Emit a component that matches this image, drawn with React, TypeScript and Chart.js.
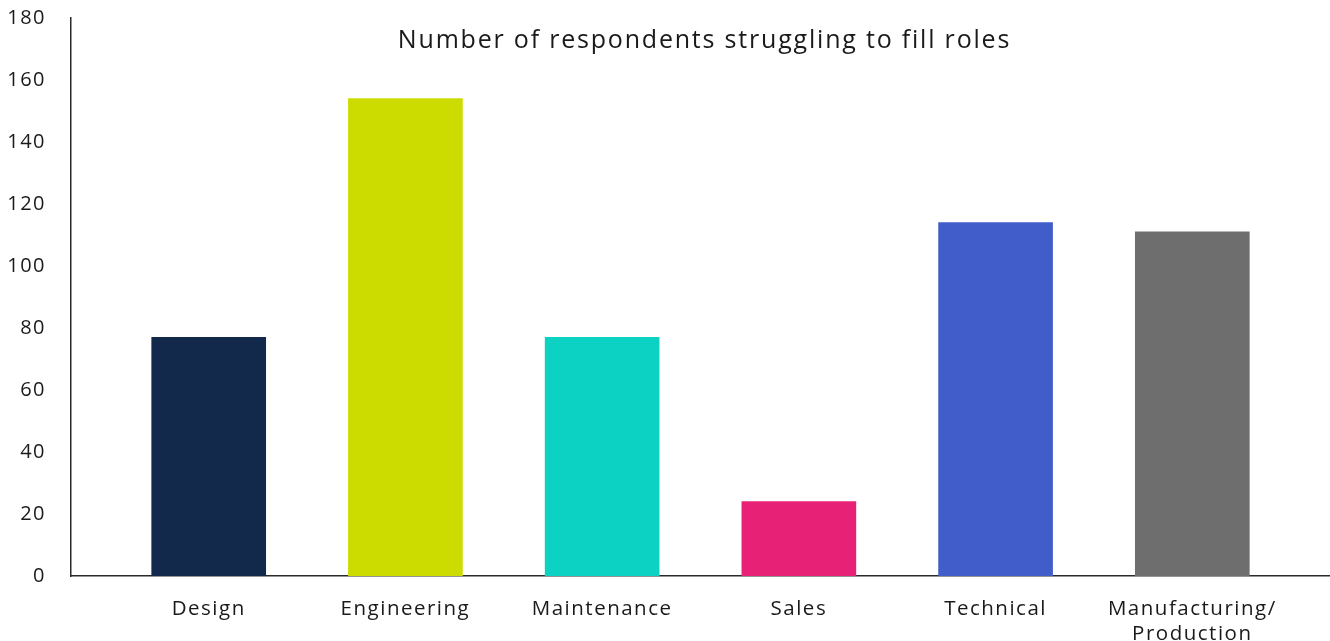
import React, { useEffect, useRef } from "react";
import { Chart, registerables } from "chart.js";

Chart.register(...registerables);

const categories: (string | string[])[] = [
  "Design",
  "Engineering",
  "Maintenance",
  "Sales",
  "Technical",
  ["Manufacturing/", "Production"],
];
const respondents: number[] = [77, 154, 77, 24, 114, 111];
const barColors: string[] = ["#13294B", "#CDDC00", "#0CD2C4", "#E62176", "#405DCA", "#6E6E6E"];
const yTicks: number[] = [0, 20, 40, 60, 80, 100, 120, 140, 160, 180];
const chartTitle = "Number of respondents struggling to fill roles";

const FONT = "'Open Sans', sans-serif";

const spacingPlugin = {
  id: "letterSpacing",
  beforeUpdate(chart: any) {
    chart.ctx.letterSpacing = "1.5px";
  },
  beforeDraw(chart: any) {
    chart.ctx.letterSpacing = "1.5px";
  },
};

const titlePlugin = {
  id: "insideTitle",
  afterDraw(chart: any) {
    const { ctx, chartArea } = chart;
    ctx.save();
    ctx.letterSpacing = "1.8px";
    ctx.font = `25px ${FONT}`;
    ctx.fillStyle = "#1a1a1a";
    ctx.textAlign = "center";
    ctx.textBaseline = "middle";
    ctx.fillText(chartTitle, (chartArea.left + chartArea.right) / 2 + 4, chartArea.top + 23);
    ctx.restore();
  },
};

export default function App() {
  const ref = useRef<HTMLCanvasElement | null>(null);
  useEffect(() => {
    if (!ref.current) return;
    const chart = new Chart(ref.current, {
      type: "bar",
      data: {
        datasets: [
          {
            data: respondents.map((v, i) => ({ x: i, y: v })),
            backgroundColor: barColors,
            barThickness: 114,
          },
        ],
      },
      options: {
        animation: false,
        responsive: true,
        maintainAspectRatio: false,
        layout: { padding: { top: 0, right: 0, left: 0, bottom: 0 } },
        plugins: { legend: { display: false }, tooltip: { enabled: false }, title: { display: false } },
        scales: {
          x: {
            type: "linear",
            min: -0.7,
            max: 5.7,
            offset: false,
            grid: { display: false, drawTicks: false, offset: false },
            border: { display: true, color: "#2a2a2a", width: 1.5 },
            afterBuildTicks: (scale: any) => {
              scale.ticks = categories.map((_, i) => ({ value: i }));
            },
            afterFit: (scale: any) => {
              scale.height = 65;
              scale.paddingLeft = 0;
              scale.paddingRight = 0;
            },
            ticks: {
              autoSkip: false,
              maxRotation: 0,
              padding: 21,
              color: "#1a1a1a",
              font: { family: FONT, size: 20.5, lineHeight: 1.2 },
              callback: (v: any) => categories[v as number] ?? "",
            },
          },
          y: {
            min: 0,
            max: 180,
            grid: { display: false, drawTicks: false },
            border: { display: true, color: "#2a2a2a", width: 1.5 },
            afterBuildTicks: (scale: any) => {
              scale.ticks = yTicks.map((v) => ({ value: v }));
            },
            afterFit: (scale: any) => {
              scale.width = 71;
              scale.paddingTop = 18;
              scale.paddingBottom = 0;
            },
            ticks: {
              padding: 25,
              color: "#1a1a1a",
              font: { family: FONT, size: 20 },
            },
          },
        },
      },
      plugins: [spacingPlugin, titlePlugin],
    });
    return () => chart.destroy();
  }, []);
  return (
    <div style={{ position: "absolute", left: 0, top: 0, width: 1330, height: 641 }}>
      <canvas ref={ref} />
    </div>
  );
}
